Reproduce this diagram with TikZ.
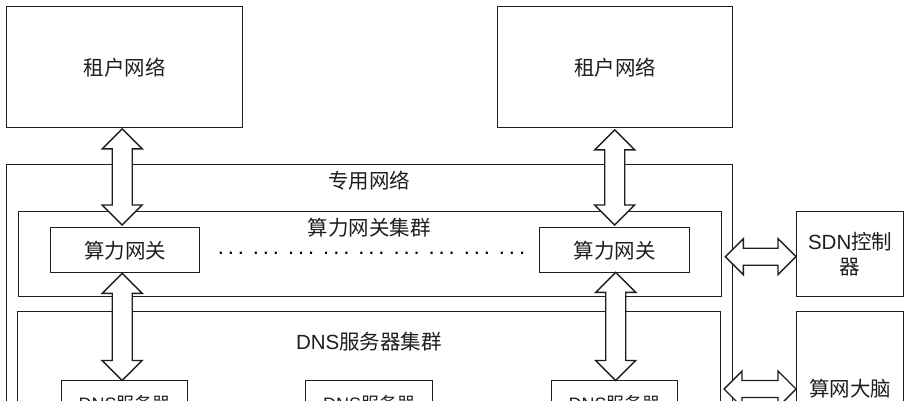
\documentclass[tikz,border=0pt]{standalone}
\usepackage{fontspec}
\setmainfont{Liberation Sans}
\newfontfamily\cjk{Noto Sans CJK SC}
\usetikzlibrary{calc}
\definecolor{ink}{HTML}{1E1E1E}
\tikzset{
  x=1pt,y=-1pt,
  boxnode/.style={draw=ink,line width=1.4pt,fill=white,inner sep=0pt,anchor=north west,align=center,text=ink,font=\fontsize{20.5}{25.5}\selectfont},
  label/.style={inner sep=0pt,text=ink,font=\fontsize{20.5}{25}\selectfont,align=center},
  dotlabel/.style={inner sep=0pt,text=black,anchor=base west,font=\fontsize{22}{25}\selectfont},
  smalltext/.style={font=\fontsize{18}{22}\selectfont},
  biarrow/.style={draw=ink,line width=1.4pt,fill=white,line join=miter}
}
% vertical double arrow between two named points
\newcommand\varrow[2]{%
  \path[biarrow] let \p1=(#1),\p2=(#2) in
    (\x1,\y1) -- (\x1+20pt,\y1-20pt) -- (\x1+10pt,\y1-20pt) -- (\x1+10pt,\y2+20pt) -- (\x1+20pt,\y2+20pt) --
    (\x1,\y2) -- (\x1-20pt,\y2+20pt) -- (\x1-10pt,\y2+20pt) -- (\x1-10pt,\y1-20pt) -- (\x1-20pt,\y1-20pt) -- cycle;}
% horizontal double arrow between two named points
\newcommand\harrow[2]{%
  \path[biarrow] let \p1=(#1),\p2=(#2) in
    (\x1,\y1) -- (\x1+18pt,\y1+18pt) -- (\x1+18pt,\y1+8.5pt) -- (\x2-18pt,\y1+8.5pt) -- (\x2-18pt,\y1+18pt) --
    (\x2,\y1) -- (\x2-18pt,\y1-18pt) -- (\x2-18pt,\y1-8.5pt) -- (\x1+18pt,\y1-8.5pt) -- (\x1+18pt,\y1-18pt) -- cycle;}
\newcommand\mybox[7][]{\node[boxnode,#1,minimum width=#5pt-#3pt,minimum height=#6pt-#4pt] (#2) at (#3,#4) {#7};}
\newcommand\dotgroup{.\kern3.9pt.\kern3.9pt.\kern9pt}
\begin{document}
\begin{tikzpicture}
\useasboundingbox (0,0) rectangle (910,400);
\clip (0,0) rectangle (910,400);
\fill[white] (0,0) rectangle (910,400);
\mybox{tenantA}{6}{6}{242}{127}{\cjk 租户网络}
\mybox{tenantB}{497}{6}{732}{127}{\cjk 租户网络}
\mybox{private}{6}{164}{732}{450}{}
\mybox{gwcluster}{17.5}{211}{721}{296}{}
\mybox{dnscluster}{17}{311}{720}{450}{}
\mybox{gwA}{50}{227}{199}{272}{\cjk 算力网关}
\mybox{gwB}{539}{227}{689}{272}{\cjk 算力网关}
\mybox[smalltext]{dnsA}{61}{380}{187}{426}{DNS{\cjk 服务器}}
\mybox[smalltext]{dnsB}{305}{380}{432}{426}{DNS{\cjk 服务器}}
\mybox[smalltext]{dnsC}{551}{380}{677}{426}{DNS{\cjk 服务器}}
\mybox{sdn}{796}{211}{903}{296}{SDN{\cjk 控制}\\{\cjk 器}}
\mybox{brain}{796}{311}{903}{465}{{\cjk 算网大脑}}
\node[label] (lprivate) at (369,181) {\cjk 专用网络};
\node[label] (lgw) at (369,228) {\cjk 算力网关集群};
\node[label] (ldns) at (369,342) {DNS{\cjk 服务器集群}};
\node[dotlabel] (dots) at (217.6,254.6) {\dotgroup\dotgroup\dotgroup\dotgroup\dotgroup\dotgroup\dotgroup\dotgroup\dotgroup};
\coordinate (a1) at ($(tenantA.south)+(-2.5,0.5)$);
\coordinate (a2) at ($(gwA.north)+(-3,-2)$);
\coordinate (b1) at ($(gwA.south)+(-3,0)$);
\coordinate (b2) at ($(dnsA.north)+(-2.5,0.5)$);
\coordinate (c1) at ($(tenantB.south)+(-0.5,1.5)$);
\coordinate (c2) at ($(gwB.north)+(0,-2)$);
\coordinate (d1) at ($(gwB.south)+(1,-1)$);
\coordinate (d2) at ($(dnsC.north)+(0.5,0.5)$);
\varrow{a1}{a2}
\varrow{b1}{b2}
\varrow{c1}{c2}
\varrow{d1}{d2}
\coordinate (e1) at ($(private.east |- sdn.west)+(-8,2.5)$);
\coordinate (e2) at (sdn.west |- e1);
\coordinate (f1) at (724,389);
\coordinate (f2) at (brain.west |- f1);
\harrow{e1}{e2}
\harrow{f1}{f2}
\end{tikzpicture}
\end{document}
